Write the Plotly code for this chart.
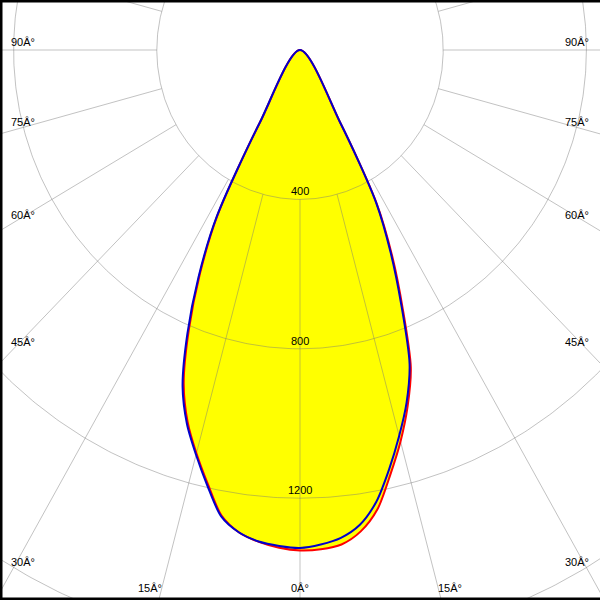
import numpy as np
import plotly.graph_objects as go

# ---- data ----
GAMMA = [-31, -30, -27.5, -25, -22.5, -20, -17.5, -15, -12.5, -10, -7.5, -5, -2.5,
         0, 2.5, 5, 7.5, 10, 12.5, 15, 17.5, 20, 22.5, 25, 27.5, 30, 31]
BLUE_CD = [0, 225, 506, 671, 822, 959, 1050, 1122, 1195, 1268, 1303, 1321, 1329,
           1333, 1325, 1311, 1282, 1228, 1150, 1070, 990, 895, 740, 600, 460, 225, 0]
RED_CD = [0, 222, 500, 662, 812, 950, 1044, 1118, 1190, 1265, 1303, 1322, 1334,
          1340, 1338, 1329, 1300, 1248, 1165, 1085, 1000, 905, 750, 610, 465, 225, 0]
RING_VALUES = [400, 800, 1200, 1600]
RING_LABELS = ["400", "800", "1200"]
SIDE_ANGLES = [90, 75, 60, 45, 30]
BOTTOM_ANGLES = [-15, 0, 15]

# ---- geometry ----
W = H = 600
SX = 0.358    # px per cd horizontally
SY = 0.3735   # px per cd vertically
CX, CY = 300, 50  # pole position in px

def to_xy(gamma_deg, r):
    g = np.radians(np.asarray(gamma_deg, dtype=float))
    r = np.asarray(r, dtype=float)
    return r * np.sin(g), -r * np.cos(g)

fig = go.Figure()

bx, by = to_xy(GAMMA, BLUE_CD)
rx, ry = to_xy(GAMMA, RED_CD)
SPL = dict(shape="spline", smoothing=0.8)

# yellow fill (union)
for xx, yy in ((rx, ry), (bx, by)):
    fig.add_trace(go.Scatter(x=xx, y=yy, mode="lines", fill="toself",
                             fillcolor="#ffff00", line=dict(width=0, **SPL),
                             hoverinfo="skip", showlegend=False))

GRID = "rgba(120,120,120,0.45)"
# rings
t = np.linspace(0, 360, 721)
for rv in RING_VALUES:
    gx, gy = to_xy(t, np.full_like(t, rv))
    fig.add_trace(go.Scatter(x=gx, y=gy, mode="lines", line=dict(color=GRID, width=1),
                             hoverinfo="skip", showlegend=False))
# radial spokes from the first ring outward
for a in range(0, 360, 15):
    gx, gy = to_xy([a, a], [RING_VALUES[0], 3000])
    fig.add_trace(go.Scatter(x=gx, y=gy, mode="lines", line=dict(color=GRID, width=1),
                             hoverinfo="skip", showlegend=False))

# curves
fig.add_trace(go.Scatter(x=rx, y=ry, mode="lines",
                         line=dict(color="#ff0000", width=2, **SPL),
                         hoverinfo="skip", showlegend=False))
fig.add_trace(go.Scatter(x=bx, y=by, mode="lines",
                         line=dict(color="#0000cc", width=2, **SPL),
                         hoverinfo="skip", showlegend=False))

FONT = dict(family="Liberation Sans, Arial, sans-serif", size=11, color="black")
# ring labels on the 0 deg axis
for lab, rv in zip(RING_LABELS, RING_VALUES):
    fig.add_annotation(x=0, y=-rv, text=lab, showarrow=False, font=FONT,
                       xanchor="center", yanchor="bottom", yshift=0)

# angle labels (paper coordinates)
LAB_CY = 42
for a in SIDE_ANGLES:
    py = LAB_CY if a == 90 else LAB_CY + 300 / np.tan(np.radians(a))
    yp = 1 - py / H
    fig.add_annotation(xref="paper", yref="paper", x=9 / W, y=yp, text=f"{a}Â°",
                       showarrow=False, font=FONT, xanchor="left", yanchor="middle")
    fig.add_annotation(xref="paper", yref="paper", x=591 / W, y=yp, text=f"{a}Â°",
                       showarrow=False, font=FONT, xanchor="right", yanchor="middle")
for a in BOTTOM_ANGLES:
    px = CX + (H - LAB_CY) * np.tan(np.radians(a))
    fig.add_annotation(xref="paper", yref="paper", x=px / W, y=1 - 588 / H, text=f"{abs(a)}Â°",
                       showarrow=False, font=FONT, xanchor="center", yanchor="middle")

# frame
for x0, y0, x1, y1 in ((0, 0, 0, 1), (0, 1, 1, 1), (0, 0, 1, 0)):
    fig.add_shape(type="line", xref="paper", yref="paper", x0=x0, y0=y0, x1=x1, y1=y1,
                  line=dict(color="black", width=5))

fig.update_xaxes(range=[-CX / SX, (W - CX) / SX], visible=False, fixedrange=True)
fig.update_yaxes(range=[-(H - CY) / SY, CY / SY], visible=False, fixedrange=True)
fig.update_layout(width=W, height=H, margin=dict(l=0, r=0, t=0, b=0),
                  paper_bgcolor="white", plot_bgcolor="white", showlegend=False)

fig.write_html("out.html", config={"displayModeBar": False},
               post_script="document.body.style.margin='0';document.body.style.overflow='hidden';")
